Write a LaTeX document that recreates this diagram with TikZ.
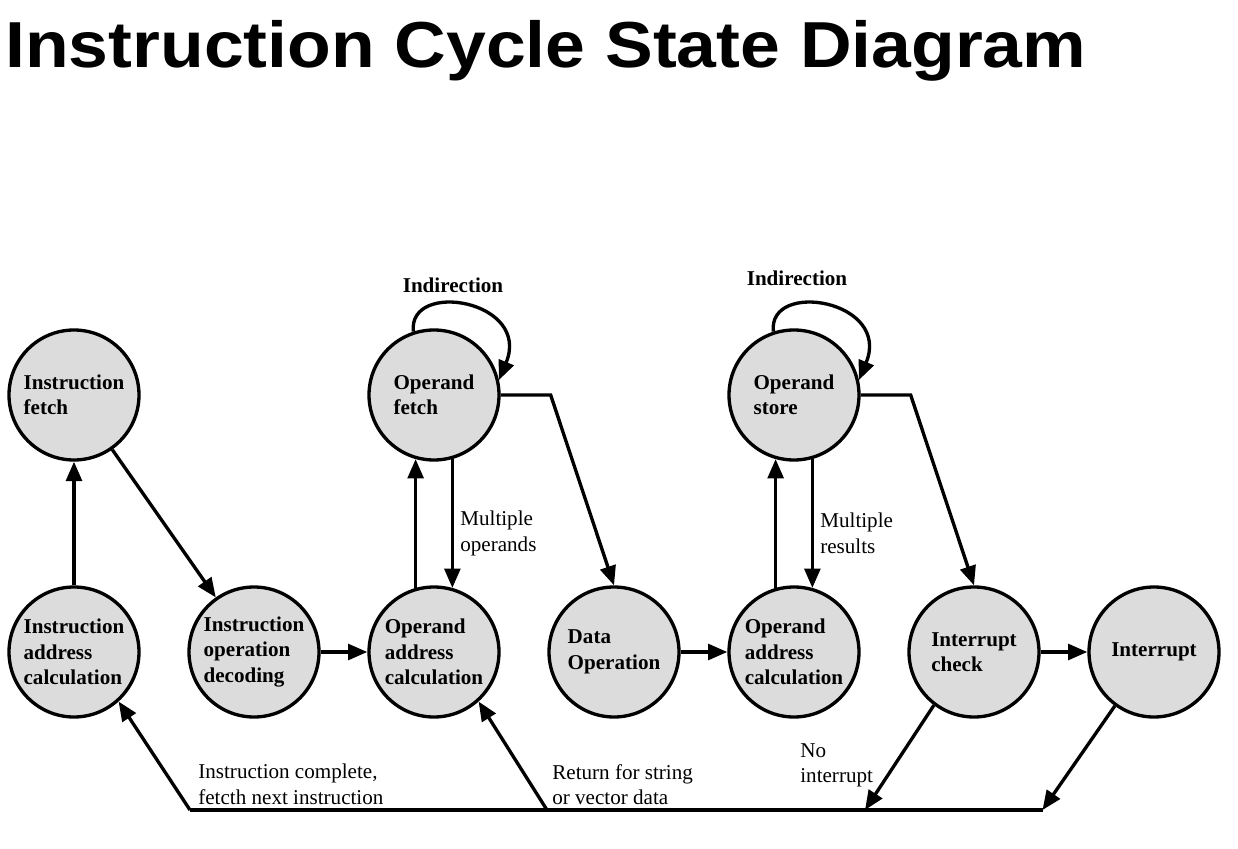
\documentclass[tikz,border=0pt]{standalone}
\usepackage{fontspec}
\setmainfont{Liberation Serif}
\newfontfamily\titlefont{Liberation Sans}
\usepackage{graphicx}
\usepackage{tikz}
\usetikzlibrary{arrows.meta}

\begin{document}
\begin{tikzpicture}[
    state/.style={circle, draw, line width=1.9pt, fill=statefill, minimum size=2.6cm,
      inner sep=0pt, align=left, font=\fontsize{12}{14.5}\selectfont\bfseries},
    flow/.style={line width=1.9pt, -{Triangle[length=11pt, width=9pt]}},
    wire/.style={line width=1.9pt},
    note/.style={align=left, inner sep=0pt, font=\fontsize{12}{14.5}\selectfont},
    loopnote/.style={inner sep=0pt, font=\fontsize{12}{14.5}\selectfont\bfseries}]
  \definecolor{statefill}{HTML}{DCDCDC}

  \useasboundingbox (0,0) rectangle (24.76,16.96);

  % title
  \node[anchor=base west, inner sep=0pt] (title) at (0.1, 15.6)
    {\titlefont\bfseries\fontsize{37}{40}\selectfont\scalebox{1.1}[1]{Instruction Cycle State Diagram}};

  % upper row
  \node[state] (ifetch) at (1.48, 9.06) {Instruction\\fetch};
  \node[state] (ofetch) at (8.68, 9.06) {Operand\\fetch};
  \node[state] (ostore) at (15.88, 9.06) {Operand\\store};

  % lower row
  \node[state] (iaddr) at (1.48, 3.92) {Instruction\\address\\calculation};
  \node[state] (idecode) at (5.08, 3.92) {Instruction\\operation\\decoding};
  \node[state] (oaddr) at (8.68, 3.92) {Operand\\address\\calculation};
  \node[state] (dataop) at (12.28, 3.92) {Data\\Operation};
  \node[state] (oaddrb) at (15.88, 3.92) {Operand\\address\\calculation};
  \node[state] (icheck) at (19.48, 3.92) {Interrupt\\check};
  \node[state] (intr) at (23.08, 3.92) {Interrupt};

  % return line along the bottom
  \coordinate (busL) at (3.8, 0.76);
  \coordinate (busM) at (10.94, 0.76);
  \coordinate (busN) at (17.3, 0.76);
  \coordinate (busR) at (20.85, 0.76);

  \draw[flow] (iaddr.north) -- (ifetch.south);
  \draw[flow] (ifetch) -- (idecode);
  \draw[flow] (idecode.east) -- (oaddr.west);
  \draw[flow] (oaddr.106) -- (ofetch.254);
  \draw[flow] (ofetch.286) -- (oaddr.74);
  \draw[flow] (ofetch.east) -- ++(1.0,0) -- (dataop.north);
  \draw[flow] (dataop.east) -- (oaddrb.west);
  \draw[flow] (oaddrb.106) -- (ostore.254);
  \draw[flow] (ostore.286) -- (oaddrb.74);
  \draw[flow] (ostore.east) -- ++(1.0,0) -- (icheck.north);
  \draw[flow] (icheck.east) -- (intr.west);

  % indirection loops
  \draw[flow] (ofetch.108) .. controls +(-0.12,1.04) and +(0.66,1.6) .. (ofetch.13);
  \draw[flow] (ostore.108) .. controls +(-0.12,1.04) and +(0.66,1.6) .. (ostore.13);

  \draw[wire] (busL) -- (busR);
  \draw[flow] (busL) -- (iaddr.-48);
  \draw[flow] (busM) -- (oaddr.-48);
  \draw[flow] (icheck.233) -- (busN);
  \draw[flow] (intr.234) -- (busR);

  % labels
  \node[loopnote] (indA) at (9.06, 11.26) {Indirection};
  \node[loopnote] (indB) at (15.94, 11.40) {Indirection};
  \node[note, anchor=west] (multop) at (9.2, 6.29) {Multiple\\operands};
  \node[note, anchor=west] (multres) at (16.4, 6.29) {Multiple\\results};
  \node[note, anchor=west] (done) at (3.96, 1.27) {Instruction complete,\\fetcth next instruction};
  \node[note, anchor=west] (again) at (11.04, 1.27) {Return for string\\or vector data};
  \node[note, anchor=west] (noint) at (16.0, 1.65) {No\\interrupt};
\end{tikzpicture}
\end{document}
